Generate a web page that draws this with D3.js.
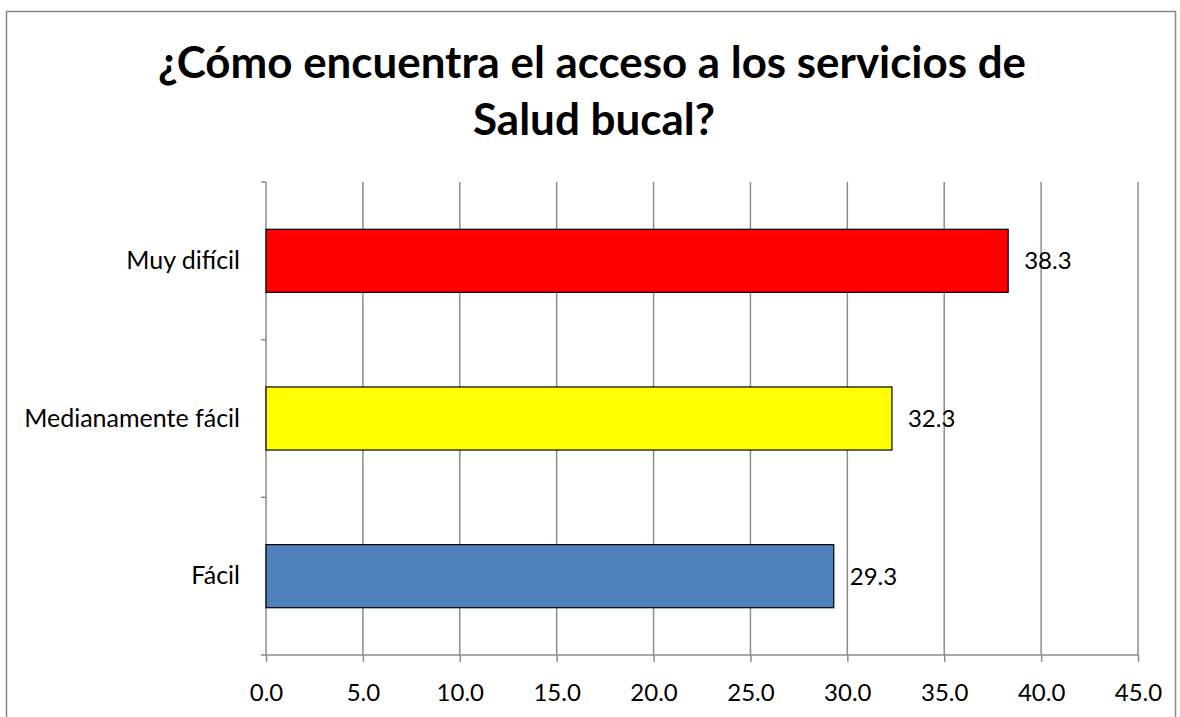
<!DOCTYPE html>
<html><head><meta charset="utf-8">
<script src="https://cdn.jsdelivr.net/npm/d3@7"></script>
<style>body{margin:0;background:#fff}svg{display:block}</style>
</head><body>
<svg id="c" width="1180" height="717"></svg>
<script>
const categories = ["Muy difícil", "Medianamente fácil", "Fácil"];
const values = [38.3, 32.3, 29.3];
const colors = ["#FF0000", "#FFFF00", "#4F81BD"];
const xTicks = [0, 5, 10, 15, 20, 25, 30, 35, 40, 45];
const titleLines = ["¿Cómo encuentra el acceso a los servicios de", "Salud bucal?"];

const svg = d3.select("#c");
const font = "Lato, 'Open Sans', sans-serif";
svg.append("rect").attr("x", 6.5).attr("y", 11.5).attr("width", 1169).attr("height", 720)
  .attr("fill", "#fff").attr("stroke", "#888").attr("stroke-width", 1.5);

const x = d3.scaleLinear().domain([0, 45]).range([266, 1138]);
const y = d3.scaleBand().domain(categories).range([182, 655]).paddingInner(0.6).paddingOuter(0.3);

// title
const title = svg.append("text").attr("font-family", font).attr("font-weight", "bold").attr("font-size", 44)
  .attr("text-anchor", "middle");
title.append("tspan").attr("x", 592).attr("y", 78)
  .attr("textLength", 868).attr("lengthAdjust", "spacingAndGlyphs").text(titleLines[0]);
title.append("tspan").attr("x", 594).attr("y", 135)
  .attr("textLength", 242).attr("lengthAdjust", "spacingAndGlyphs").text(titleLines[1]);

// gridlines
svg.append("g").selectAll("line").data(xTicks.slice(1)).join("line")
  .attr("x1", d => x(d)).attr("x2", d => x(d)).attr("y1", 182).attr("y2", 655)
  .attr("stroke", "#8c8c8c").attr("stroke-width", 1.5);

// x axis
const xa = svg.append("g").attr("transform", "translate(0,655)")
  .call(d3.axisBottom(x).tickValues(xTicks).tickFormat(d3.format(".1f")).tickSize(7).tickSizeOuter(0));
xa.select(".domain").attr("stroke", "#8c8c8c").attr("stroke-width", 1.5).attr("d", "M261,0H1138");
xa.selectAll(".tick line").attr("stroke", "#8c8c8c").attr("stroke-width", 1.5);
xa.selectAll(".tick text").attr("font-family", font).attr("font-size", 24).attr("fill", "#000")
  .attr("y", 46).attr("dy", 0);

// y axis
const ya = svg.append("g").attr("transform", "translate(266,0)")
  .call(d3.axisLeft(y).tickSize(0).tickPadding(26));
ya.select(".domain").attr("stroke", "#8c8c8c").attr("stroke-width", 1.5).attr("d", "M0,182V655");
ya.selectAll(".tick text").attr("font-family", font).attr("font-size", 25).attr("fill", "#000");
const yTickPos = [182, 182 + 473 / 3, 182 + 2 * 473 / 3];
svg.append("g").selectAll("line").data(yTickPos).join("line")
  .attr("x1", 261).attr("x2", 266).attr("y1", d => d).attr("y2", d => d)
  .attr("stroke", "#8c8c8c").attr("stroke-width", 1.5);

// bars
svg.append("g").selectAll("rect").data(categories).join("rect")
  .attr("x", x(0)).attr("y", d => y(d)).attr("width", (d, i) => x(values[i]) - x(0))
  .attr("height", y.bandwidth()).attr("fill", (d, i) => colors[i])
  .attr("stroke", "#000").attr("stroke-width", 1.2);

// value labels
svg.append("g").selectAll("text").data(categories).join("text")
  .attr("x", (d, i) => x(values[i]) + 16).attr("y", d => y(d) + y.bandwidth() / 2)
  .attr("dy", "0.35em").attr("font-family", font).attr("font-size", 24)
  .text((d, i) => values[i].toFixed(1));
</script>
</body></html>
